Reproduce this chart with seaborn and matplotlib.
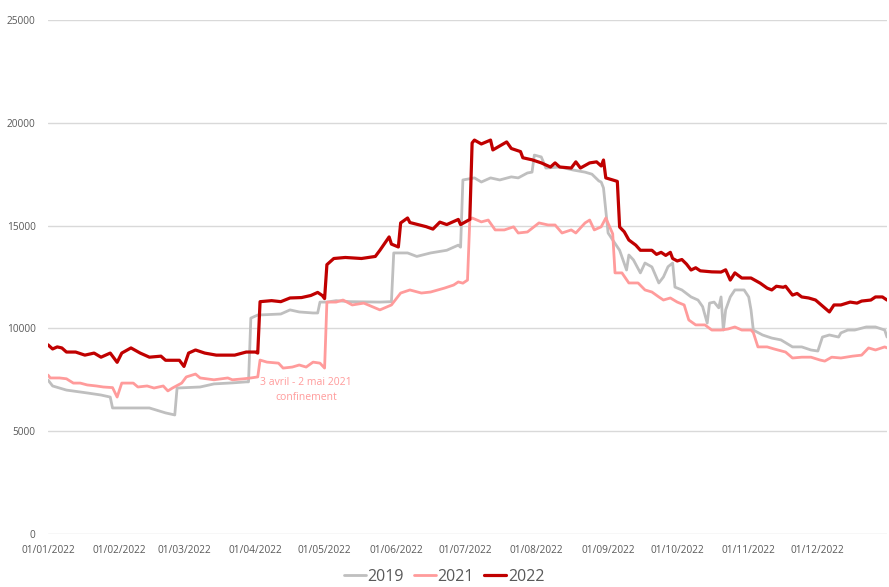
import matplotlib
matplotlib.use("Agg")
import matplotlib.pyplot as plt
import matplotlib.dates as mdates
import seaborn as sns
import pandas as pd

# ---- data (day of year offset from 01/01/2022, value) ----
days_2019 = [0, 2, 8, 17, 23, 27, 28, 37, 44, 51, 55, 56, 66, 72, 80, 86, 87, 88, 91, 101, 105, 109, 115, 117,
             118, 121, 125, 131, 144, 149, 150, 156, 160, 166, 173, 178, 179, 180, 185, 188, 192, 196, 201, 204,
             208, 210, 211, 214, 216, 222, 228, 233, 236, 239, 240, 241, 243, 245, 248, 251, 252, 254, 257, 259,
             262, 265, 267, 269, 271, 272, 275, 279, 282, 284, 286, 287, 289, 291, 292, 293, 294, 296, 298, 302,
             304, 305, 306, 310, 314, 318, 323, 327, 331, 334, 336, 339, 343, 344, 347, 350, 355, 359, 363, 364]
vals_2019 = [7490, 7200, 7000, 6860, 6760, 6660, 6130, 6130, 6130, 5890, 5790, 7100, 7150, 7300, 7350, 7400, 7400,
             10500, 10650, 10700, 10900, 10800, 10750, 10750,
             11280, 11280, 11350, 11300, 11280, 11300, 13670, 13670, 13500, 13670, 13800, 14050, 13950, 17220,
             17320, 17120, 17320, 17220, 17370, 17320,
             17560, 17600, 18430, 18340, 17800, 17850, 17700, 17600, 17500, 17170, 17120, 16830, 14640, 14300,
             13800, 12840, 13570, 13330, 12700, 13180,
             12990, 12210, 12500, 13000, 13180, 12010, 11870, 11530, 11380, 11060, 10260, 11230, 11280, 11000,
             11530, 9920, 10900, 11530, 11870, 11870,
             11530, 10900, 9920, 9680, 9530, 9440, 9100, 9100, 8950, 8900, 9580, 9680, 9580, 9780, 9920, 9920,
             10070, 10070, 9920, 9580]

days_2021 = [0, 1, 5, 8, 11, 14, 17, 21, 24, 28, 30, 32, 37, 39, 43, 46, 50, 52, 54, 58, 60, 64, 66, 72, 78, 80,
             85, 88, 91, 92, 95, 100, 102, 106, 109, 112, 115, 118, 120, 121, 125, 128, 132, 137, 144, 149, 153,
             157, 162, 166, 172, 176, 178, 180, 182, 183, 184, 188, 191, 194, 198, 202, 204, 208, 213, 217, 220,
             223, 227, 229, 233, 235, 237, 240, 242, 245, 246, 249, 252, 256, 259, 262, 265, 267, 270, 273, 276,
             278, 281, 285, 288, 292, 295, 298, 301, 305, 306, 308, 312, 315, 320, 323, 327, 331, 335, 337, 340,
             344, 349, 353, 356, 359, 363, 364]
vals_2021 = [7730, 7590, 7590, 7550, 7340, 7340, 7250, 7200, 7150, 7120, 6660, 7340, 7340, 7150, 7200, 7100, 7200,
             6960, 7100, 7340, 7640, 7780, 7590, 7500, 7590, 7500,
             7550, 7590, 7640, 8460, 8360, 8310, 8070, 8120, 8220, 8120, 8360, 8310, 8070, 11280, 11280, 11380,
             11140, 11230, 10900, 11140, 11720,
             11870, 11720, 11770, 11960, 12110, 12260, 12200, 12350, 15270, 15370, 15180, 15270, 14790, 14790,
             14940, 14640, 14690, 15130, 15030, 15030,
             14640, 14790, 14640, 15130, 15270, 14790, 14940, 15370, 14600, 12700, 12700, 12210, 12210, 11870,
             11770, 11530, 11380, 11480, 11280, 11140,
             10410, 10170, 10170, 9920, 9920, 9970, 10070, 9920, 9920, 9800, 9100, 9100, 9000, 8850, 8560, 8600,
             8600, 8460, 8410, 8600,
             8560, 8650, 8700, 9050, 8950, 9100, 9050]

days_2022 = [0, 2, 4, 6, 8, 12, 16, 20, 23, 27, 30, 32, 36, 40, 44, 49, 51, 57, 59, 61, 64, 68, 73, 77, 81, 86,
             90, 91, 92, 97, 101, 105, 110, 114, 117, 119, 120, 121, 124, 129, 136, 142, 144, 148, 149, 152, 153,
             156, 157, 164, 167, 170, 173, 178, 179, 183, 184, 185, 188, 192, 193, 199, 201, 205, 206, 210, 214,
             218, 220, 222, 227, 229, 231, 235, 238, 240, 241, 242, 245, 247, 248, 250, 252, 255, 257, 262, 264,
             266, 268, 270, 271, 273, 275, 277, 279, 281, 283, 288, 292, 294, 296, 298, 301, 305, 309, 312, 314,
             316, 319, 320, 323, 325, 327, 330, 333, 339, 341, 344, 348, 351, 353, 357, 359, 362, 364]
vals_2022 = [9200, 9000, 9100, 9050, 8850, 8850, 8700, 8800, 8600, 8800, 8350, 8800, 9050, 8800, 8600, 8650, 8450,
             8450, 8150, 8800, 8950, 8800, 8700, 8700, 8700, 8850,
             8850, 8800, 11300, 11350, 11300, 11480, 11500, 11600, 11750, 11600, 11450, 13100, 13400, 13450,
             13400, 13500, 13800, 14450, 14100, 13960, 15130,
             15370, 15150, 14950, 14830, 15170, 15050, 15300, 15050, 15300, 19020, 19160, 18970, 19160, 18680,
             19070, 18750, 18600, 18300, 18200, 18050,
             17850, 18050, 17850, 17800, 18100, 17800, 18050, 18100, 17900, 18190, 17320, 17220, 17150, 14930,
             14700, 14300, 14050, 13800, 13800, 13600,
             13700, 13550, 13700, 13400, 13280, 13350, 13130, 12840, 12950, 12800, 12750, 12740, 12850, 12350,
             12700, 12450, 12450, 12200, 11960, 11870,
             12050, 12000, 12050, 11620, 11700, 11530, 11480, 11380, 10800, 11140, 11140, 11280, 11230, 11330,
             11380, 11530, 11530, 11380]

series = {"2019": (days_2019, vals_2019), "2021": (days_2021, vals_2021), "2022": (days_2022, vals_2022)}
colors = {"2019": "#BFBFBF", "2021": "#FF9B9B", "2022": "#C00000"}
widths = {"2019": 2.0, "2021": 2.0, "2022": 2.3}

tick_dates = ["2022-01-01", "2022-02-01", "2022-03-01", "2022-04-01", "2022-05-01", "2022-06-01",
              "2022-07-01", "2022-08-01", "2022-09-01", "2022-10-01", "2022-11-01", "2022-12-01"]
y_ticks = [0, 5000, 10000, 15000, 20000, 25000]

start = pd.Timestamp("2022-01-01")
frames = []
for name, (d, v) in series.items():
    frames.append(pd.DataFrame({"date": start + pd.to_timedelta(d, unit="D"), "value": v, "year": name}))
df = pd.concat(frames, ignore_index=True)

sns.set_theme(style="white")
plt.rcParams["font.family"] = ["Open Sans", "DejaVu Sans"]

fig = plt.figure(figsize=(8.89, 5.87), dpi=100)
ax = fig.add_axes([48 / 889, 1 - 534 / 587, 839 / 889, 514 / 587])

for name in ["2019", "2021", "2022"]:
    sub = df[df["year"] == name]
    sns.lineplot(data=sub, x="date", y="value", ax=ax, color=colors[name], linewidth=widths[name],
                 estimator=None, label=name)

ax.set_ylim(0, 25000)
ax.set_xlim(start, pd.Timestamp("2022-12-31"))
ax.set_yticks(y_ticks)
ax.set_yticklabels([str(t) for t in y_ticks])
ax.set_xticks(pd.to_datetime(tick_dates))
ax.xaxis.set_major_formatter(mdates.DateFormatter("%d/%m/%Y"))
ax.tick_params(axis="both", length=0, labelsize=7.3, colors="#595959")
ax.tick_params(axis="y", pad=9)
ax.tick_params(axis="x", pad=8)
ax.set_xlabel("")
ax.set_ylabel("")
ax.grid(axis="y", color="#D9D9D9", linewidth=1.0)
ax.set_axisbelow(True)
for s in ax.spines.values():
    s.set_visible(False)

ax.text(start + pd.Timedelta(days=112), 6980, "3 avril - 2 mai 2021\nconfinement", color="#FF9B9B",
        fontsize=7.5, ha="center", va="center", linespacing=1.5)

handles, labels = ax.get_legend_handles_labels()
ax.get_legend().remove()
fig.legend(handles, labels, loc="center", bbox_to_anchor=(444 / 889, 1 - 577 / 587), ncol=3, frameon=False,
           fontsize=11.5, handlelength=1.4, handletextpad=0.1, columnspacing=0.6, labelcolor="#595959")

fig.savefig("out.png", dpi=100)
